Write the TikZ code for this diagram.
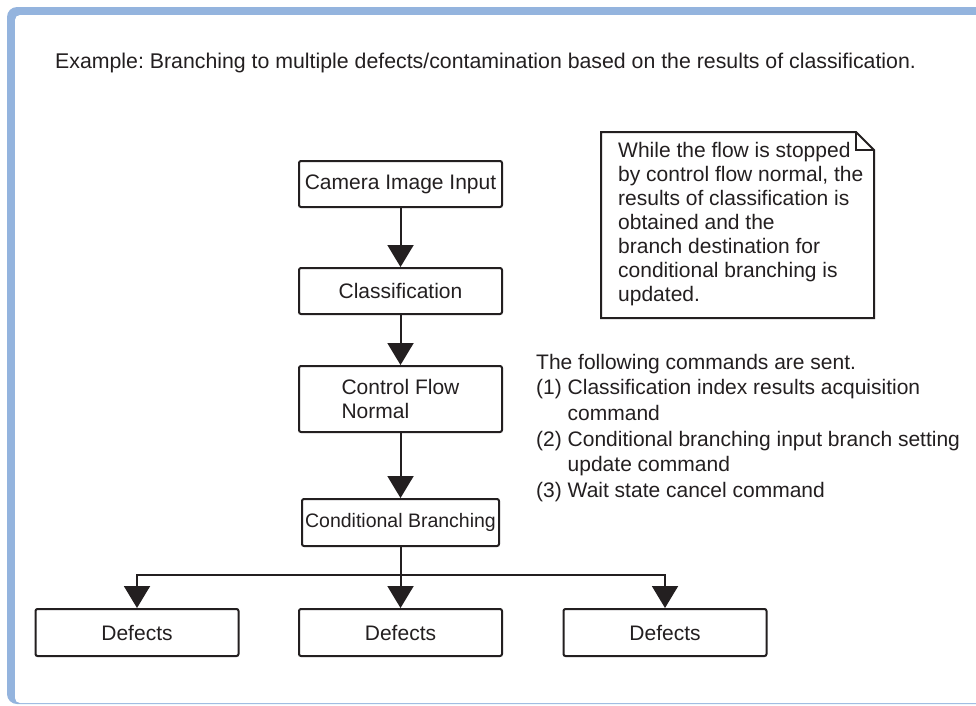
\documentclass[tikz,border=0pt]{standalone}
\usepackage{fontspec}
\setmainfont{Liberation Sans}
\frenchspacing
\usetikzlibrary{arrows.meta}
\definecolor{ink}{RGB}{35,31,32}
\definecolor{frameblue}{RGB}{148,180,222}
\begin{document}
\begin{tikzpicture}[x=1pt,y=-1pt,
  flowbox/.style={draw=ink, line width=2pt, rounded corners=2pt,
    minimum width=203pt, minimum height=46pt, inner sep=0pt,
    text=ink, font=\fontsize{21}{24}\selectfont},
  flowarrow/.style={draw=ink, line width=2pt,
    -{Triangle[width=26pt,length=22pt]}},
  plain/.style={inner sep=0pt, text=ink, font=\fontsize{21}{24}\selectfont}]
\useasboundingbox (0,0) rectangle (976,705);

% blue panel frame, open on the right
\fill[frameblue, rounded corners=10pt] (990,7) -- (7,7) -- (7,704) -- (990,704) -- cycle;
\fill[white, rounded corners=5pt] (990,15) -- (15,15) -- (15,703) -- (990,703) -- cycle;

% heading
\node[plain, anchor=base west, font=\fontsize{21.3}{24}\selectfont] (title) at (55,68)
  {Example: Branching to multiple defects/contamination based on the results of classification.};

% main flow
\node[flowbox] (cam) at (400.5,184) {Camera Image Input};
\node[flowbox] (cls) at (400.5,291) {Classification};
\node[flowbox, minimum height=66pt, align=left] (cfn) at (400.5,399) {Control Flow\\Normal};
\node[flowbox, minimum width=197pt, minimum height=47pt,
  font=\fontsize{19.5}{24}\selectfont] (cb) at (400.5,522.5) {Conditional Branching};

\node[flowbox, minimum height=47pt] (d1) at (137,632.5) {Defects};
\node[flowbox, minimum height=47pt] (d2) at (400.5,632.5) {Defects};
\node[flowbox, minimum height=47pt] (d3) at (665,632.5) {Defects};

\draw[flowarrow] (cam) -- (cls);
\draw[flowarrow] (cls) -- (cfn);
\draw[flowarrow] (cfn) -- (cb);
\draw[flowarrow] (cb) -- (d2);
\coordinate (split) at (400.5,575);
\draw[flowarrow] (split) -| (d1.north);
\draw[flowarrow] (split) -| (d3.north);

% note with folded corner
\draw[ink, line width=2pt] (856,132) -- (601,132) -- (601,318) -- (874,318) -- (874,150) -- cycle;
\draw[ink, line width=1.5pt] (856,132) -- (856,150) -- (874,150);
\node[plain, anchor=base west] (note) at (618,157)
  {\parbox[t]{250pt}{\raggedright\fontsize{21}{24}\selectfont
   While the flow is stopped\\
   by control flow normal, the\\
   results of classification is\\
   obtained and the\\
   branch destination for\\
   conditional branching is\\
   updated.}};

% commands sent
\node[plain, anchor=base west] (cmds) at (536,369)
  {\parbox[t]{438pt}{\raggedright\fontsize{21}{25.7}\selectfont
   The following commands are sent.\\
   (1) Classification index results acquisition\\
   \hphantom{(1) }command\\
   (2) Conditional branching input branch setting\\
   \hphantom{(2) }update command\\
   (3) Wait state cancel command}};
\end{tikzpicture}
\end{document}
